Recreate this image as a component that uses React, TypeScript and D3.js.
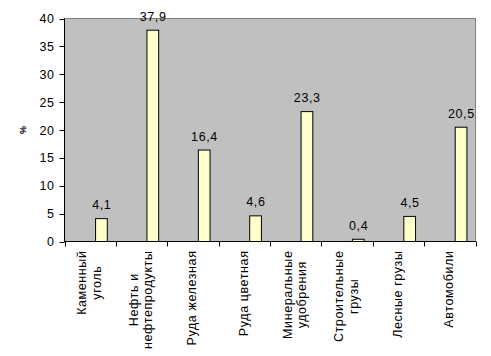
import React, { useMemo } from "react";
import * as d3 from "d3";

const categoryLines: string[][] = [
  ["Каменный", "уголь"],
  ["Нефть и", "нефтепродукты"],
  ["Руда железная"],
  ["Руда цветная"],
  ["Минеральные", "удобрения"],
  ["Строительные", "грузы"],
  ["Лесные грузы"],
  ["Автомобили"],
];
const values: number[] = [4.1, 37.9, 16.4, 4.6, 23.3, 0.4, 4.5, 20.5];
const yTicks: number[] = [0, 5, 10, 15, 20, 25, 30, 35, 40];
const yTitle = "%";

const W = 491;
const H = 356;
const plot = { left: 64.5, right: 475.5, top: 18.5, bottom: 241.5 };
const FONT = "'Liberation Sans', Arial, sans-serif";
const FS = 12.5;
const LS = 0.6;

export default function App() {
  const x = d3
    .scaleBand<number>()
    .domain(d3.range(values.length))
    .range([plot.left, plot.right])
    .paddingInner(0)
    .paddingOuter(0);
  const y = d3.scaleLinear().domain([0, 40]).range([plot.bottom, plot.top]);
  const bw = x.bandwidth();
  const barOff = bw * 0.605;
  const barW = bw * 0.228;

  const measure = useMemo(() => {
    const c = document.createElement("canvas").getContext("2d")!;
    c.font = `${FS}px ${FONT}`;
    return (s: string) => c.measureText(s).width + s.length * LS;
  }, []);

  const lineH = 14.5;
  const labelTop = 250.5;

  return (
    <svg
      width={W}
      height={H}
      style={{ position: "absolute", left: 0, top: 0, background: "#fff" }}
      fontFamily={FONT}
    >
      <rect
        x={plot.left}
        y={plot.top}
        width={plot.right - plot.left}
        height={plot.bottom - plot.top}
        fill="#C0C0C0"
        stroke="#808080"
        strokeWidth={1}
      />
      {values.map((v, i) => {
        const bx = (x(i) as number) + barOff;
        return (
          <g key={i}>
            <rect
              x={bx}
              y={y(v)}
              width={barW}
              height={y(0) - y(v)}
              fill="#FFFFCC"
              stroke="#000"
              strokeWidth={1}
            />
            <text
              x={bx + barW / 2 + LS / 2}
              y={y(v) - 9.5}
              textAnchor="middle"
              fontSize={FS}
              letterSpacing={LS}
              fill="#000"
            >
              {v.toFixed(1).replace(".", ",")}
            </text>
          </g>
        );
      })}
      {/* Y axis */}
      <line x1={plot.left} x2={plot.left} y1={plot.top} y2={plot.bottom} stroke="#000" />
      {yTicks.map((t) => (
        <g key={t}>
          <line
            x1={plot.left - 5}
            x2={plot.left}
            y1={Math.round(y(t)) + 0.5}
            y2={Math.round(y(t)) + 0.5}
            stroke="#000"
          />
          <text x={54.5} y={y(t) + 4.5} textAnchor="end" fontSize={FS} letterSpacing={LS} fill="#000">
            {t}
          </text>
        </g>
      ))}
      <text
        transform={`translate(26,130) rotate(-90)`}
        textAnchor="middle"
        fontSize={9}
        fontWeight="bold"
        fill="#000"
      >
        {yTitle}
      </text>
      {/* X axis */}
      <line x1={plot.left} x2={plot.right} y1={plot.bottom} y2={plot.bottom} stroke="#000" />
      {d3.range(values.length + 1).map((i) => {
        const tx = Math.round(plot.left + i * bw) + 0.5;
        return <line key={i} x1={tx} x2={tx} y1={plot.bottom} y2={plot.bottom + 5} stroke="#000" />;
      })}
      {categoryLines.map((lines, i) => {
        const cx = (x(i) as number) + bw / 2;
        const maxW = Math.max(...lines.map(measure));
        const cy = labelTop + maxW / 2;
        const n = lines.length;
        return (
          <g key={i}>
            {lines.map((s, j) => {
              const bx = cx - (n * lineH) / 2 + 10.75 + j * lineH;
              return (
                <text
                  key={j}
                  transform={`translate(${bx},${cy}) rotate(-90)`}
                  textAnchor="middle"
                  fontSize={FS}
                  letterSpacing={LS}
                  fill="#000"
                >
                  {s}
                </text>
              );
            })}
          </g>
        );
      })}
    </svg>
  );
}
